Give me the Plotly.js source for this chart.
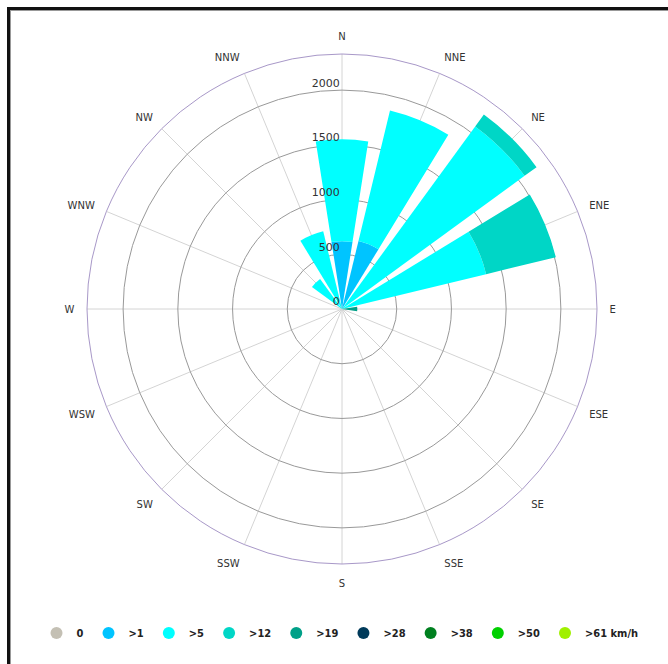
<!DOCTYPE html>
<html>
<head>
<meta charset="utf-8">
<script src="https://cdn.plot.ly/plotly-3.0.1.min.js"></script>
<style>
  html, body { margin: 0; padding: 0; width: 668px; height: 664px; overflow: hidden; background: #fff; }
  #chart { position: absolute; left: 0; top: 0; width: 668px; height: 664px; }
  #frame { position: absolute; left: 7px; top: 7px; width: 720px; height: 720px;
           border: 3px solid #111; box-shadow: inset 1px 1px 0 #999; pointer-events: none; }
</style>
</head>
<body>
<div id="chart"></div>
<div id="frame"></div>
<script>
// Directions (clockwise from North)
const directions = ["N","NNE","NE","ENE","E","ESE","SE","SSE","S","SSW","SW","WSW","W","WNW","NW","NNW"];

// Speed classes (legend labels) and colours
const speedLabels = ["0", ">1", ">5", ">12", ">19", ">28", ">38", ">50", ">61 km/h"];
const speedColors = ["#c4c0b4", "#00c4ff", "#00ffff", "#00d6c6", "#00a088", "#003a5a", "#008020", "#00d000", "#a0f000"];

// Frequencies per direction for each speed class (stacked)
const calm   = [0,   0,    0,    0,   0,   0,0,0,0,0,0,0,0,0,0,   0];
const s1     = [620, 640,  0,    0,   0,   0,0,0,0,0,0,0,0,0,0,   0];
const s5     = [930, 1225, 2065, 1355,0,   0,0,0,0,0,0,0,0,0,340, 730];
const s12    = [0,   0,    135,  655, 0,   0,0,0,0,0,0,0,0,0,0,   0];
const s19    = [0,   0,    0,    0,   140, 0,0,0,0,0,0,0,0,0,0,   0];
const s28    = [0,   0,    0,    0,   0,   0,0,0,0,0,0,0,0,0,0,   0];
const s38    = [0,   0,    0,    0,   0,   0,0,0,0,0,0,0,0,0,0,   0];
const s50    = [0,   0,    0,    0,   0,   0,0,0,0,0,0,0,0,0,0,   0];
const s61    = [0,   0,    0,    0,   0,   0,0,0,0,0,0,0,0,0,0,   0];
const seriesValues = [calm, s1, s5, s12, s19, s28, s38, s50, s61];

// Radial ticks
const radialTicks = [0, 500, 1000, 1500, 2000];
const radialMax = 2330;

const step = 360 / directions.length;
const angles = directions.map((d, i) => i * step);

const traces = [];
seriesValues.forEach((vals, k) => {
  traces.push({
    type: "barpolar",
    r: vals,
    theta: angles,
    width: angles.map(() => 17.8),
    name: speedLabels[k],
    marker: { color: speedColors[k], line: { width: 0 } },
    showlegend: false,
    hoverinfo: "skip"
  });
});
// legend entries with round markers
speedLabels.forEach((lab, k) => {
  traces.push({
    type: "scatterpolar",
    mode: "markers",
    r: [null],
    theta: [null],
    name: lab,
    marker: { color: speedColors[k], size: 12, symbol: "circle" },
    showlegend: true
  });
});

const layout = {
  width: 668,
  height: 664,
  margin: { l: 0, r: 0, t: 54, b: 100 },
  paper_bgcolor: "#fff",
  font: { family: "DejaVu Sans, sans-serif", color: "#333" },
  barmode: "stack",
  polar: {
    bgcolor: "rgba(0,0,0,0)",
    domain: { x: [87 / 668, 597 / 668], y: [0, 1] },
    bargap: 0,
    angularaxis: {
      direction: "clockwise",
      rotation: 90,
      tickmode: "array",
      tickvals: angles,
      ticktext: directions,
      tickfont: { size: 10, color: "#333", family: "DejaVu Sans, sans-serif" },
      ticks: "outside",
      ticklen: 10,
      tickcolor: "rgba(0,0,0,0)",
      showline: true,
      linecolor: "#a898c8",
      linewidth: 1,
      gridcolor: "#d4d4d4",
      gridwidth: 1,
      layer: "below traces"
    },
    radialaxis: {
      range: [0, radialMax],
      angle: 90,
      side: "counterclockwise",
      tickangle: 90,
      tickmode: "array",
      tickvals: radialTicks,
      ticktext: radialTicks.map(v => v + "<br> "),
      tickfont: { size: 11, color: "#333", family: "DejaVu Sans, sans-serif" },
      ticks: "",
      showline: false,
      gridcolor: "#999",
      gridwidth: 1,
      layer: "above traces"
    }
  },
  legend: {
    orientation: "h",
    xref: "container",
    yref: "container",
    x: 0.509,
    xanchor: "center",
    y: 1 - 633 / 664,
    yanchor: "middle",
    font: { size: 11, color: "#222", family: "DejaVu Sans Condensed, DejaVu Sans, sans-serif", weight: "bold" },
    itemsizing: "trace",
    bgcolor: "rgba(0,0,0,0)"
  }
};

Plotly.newPlot("chart", traces, layout, { displayModeBar: false, staticPlot: true });
</script>
</body>
</html>
